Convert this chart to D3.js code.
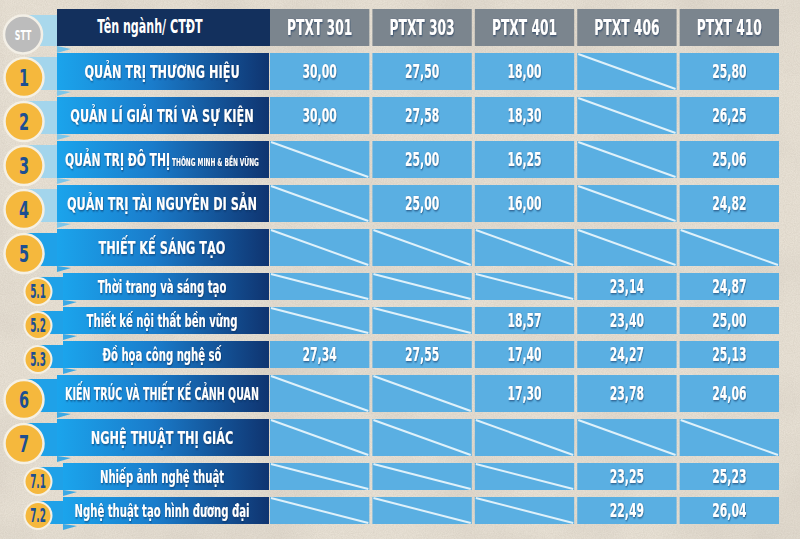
<!DOCTYPE html>
<html>
<head>
<meta charset="utf-8">
<script src="https://cdn.jsdelivr.net/npm/d3@7"></script>
<style>
  html, body { margin: 0; padding: 0; background: #e7e0d4; }
  svg { display: block; }
  text { font-family: "Liberation Sans Narrow", "DejaVu Sans Condensed", "Roboto", sans-serif; font-weight: bold; }
</style>
</head>
<body>
<svg id="chart"></svg>
<script>
// STT labels and program names (row order)
const stt = ["1", "2", "3", "4", "5", "5.1", "5.2", "5.3", "6", "7", "7.1", "7.2"]
const programs = [
  "QUẢN TRỊ THƯƠNG HIỆU",
  "QUẢN LÍ GIẢI TRÍ VÀ SỰ KIỆN",
  "QUẢN TRỊ ĐÔ THỊ",
  "QUẢN TRỊ TÀI NGUYÊN DI SẢN",
  "THIẾT KẾ SÁNG TẠO",
  "Thời trang và sáng tạo",
  "Thiết kế nội thất bền vững",
  "Đồ họa công nghệ số",
  "KIẾN TRÚC VÀ THIẾT KẾ CẢNH QUAN",
  "NGHỆ THUẬT THỊ GIÁC",
  "Nhiếp ảnh nghệ thuật",
  "Nghệ thuật tạo hình đương đại",
]
const programNotes = ["", "", "THÔNG MINH & BỀN VỮNG", "", "", "", "", "", "", "", "", ""]

// admission methods (columns)
const methods = ["PTXT 301", "PTXT 303", "PTXT 401", "PTXT 406", "PTXT 410"]

// scores per method, null = no admission by that method
const ptxt301 = [30.0, 30.0, null, null, null, null, null, 27.34, null, null, null, null]
const ptxt303 = [27.5, 27.58, 25.0, 25.0, null, null, null, 27.55, null, null, null, null]
const ptxt401 = [18.0, 18.3, 16.25, 16.0, null, null, 18.57, 17.4, 17.3, null, null, null]
const ptxt406 = [null, null, null, null, null, 23.14, 23.4, 24.27, 23.78, null, 23.25, 22.49]
const ptxt410 = [25.8, 26.25, 25.06, 24.82, null, 24.87, 25.0, 25.13, 24.06, null, 25.23, 26.04]

const scores = [ptxt301, ptxt303, ptxt401, ptxt406, ptxt410]

const width = 800
const height = 539

const svg = d3.select("#chart").attr("width", width).attr("height", height)
const defs = svg.append("defs")

// parchment texture
const paper = defs.append("filter").attr("id", "paper").attr("x", 0).attr("y", 0).attr("width", 1).attr("height", 1)
paper.append("feTurbulence").attr("type", "fractalNoise").attr("baseFrequency", 0.9).attr("numOctaves", 3).attr("seed", 4).attr("result", "fine")
paper.append("feColorMatrix").attr("in", "fine").attr("type", "matrix")
  .attr("values", "0 0 0 0 0.45  0 0 0 0 0.4  0 0 0 0 0.33  0 0 0 0.35 -0.08").attr("result", "fineA")
paper.append("feTurbulence").attr("type", "fractalNoise").attr("baseFrequency", 0.012).attr("numOctaves", 3).attr("seed", 9).attr("result", "coarse")
paper.append("feColorMatrix").attr("in", "coarse").attr("type", "matrix")
  .attr("values", "0 0 0 0 0.55  0 0 0 0 0.5  0 0 0 0 0.44  0 0 0 0.6 -0.22").attr("result", "coarseA")
paper.append("feMerge").call((m) => {
  m.append("feMergeNode").attr("in", "coarseA")
  m.append("feMergeNode").attr("in", "fineA")
})

svg.append("rect").attr("width", width).attr("height", height).attr("fill", "#e8e1d5")
svg.append("rect").attr("width", width).attr("height", height).attr("filter", "url(#paper)")

// soft drop shadow for white text
const shadow = defs.append("filter").attr("id", "shadow").attr("x", "-20%").attr("y", "-30%").attr("width", "140%").attr("height", "160%")
shadow.append("feDropShadow").attr("dx", 0.8).attr("dy", 1).attr("stdDeviation", 0.8)
  .attr("flood-color", "#0a2f57").attr("flood-opacity", 0.75)

// banner gradient
const grad = defs.append("linearGradient").attr("id", "banner").attr("x1", 0).attr("x2", 1).attr("y1", 0).attr("y2", 0)
grad.append("stop").attr("offset", "0%").attr("stop-color", "#1ba4ec")
grad.append("stop").attr("offset", "45%").attr("stop-color", "#1a7ccb")
grad.append("stop").attr("offset", "100%").attr("stop-color", "#0f3470")

// row layout: header + program rows, sub programs are shorter
const isSub = (s) => s.includes(".")
const mainH = 37
const subH = 27
const gap = 7
const topY = 9
const rowH = [mainH, ...stt.map((s) => (isSub(s) ? subH : mainH))]
const rowY = rowH.map((h, i) => topY + d3.sum(rowH.slice(0, i)) + i * gap)

// columns
const x = d3.scaleBand().domain(methods).range([270, 779]).paddingInner(0.03)
const nameLeft = 57
const subLeft = 63
const nameRight = 269
const nameMid = 162

const fmt = (v) => d3.format(".2f")(v).replace(".", ",")

// helper: condensed text via horizontal scale
function label(g, tx, ty, str, size, sx, fill) {
  return g.append("text")
    .attr("transform", `translate(${tx},${ty}) scale(${sx},1)`)
    .attr("text-anchor", "middle")
    .attr("font-size", size)
    .attr("fill", fill)
    .text(str)
}

// ---- header ----
const head = svg.append("g")
head.append("rect").attr("x", 22).attr("y", rowY[0] + 6).attr("width", nameLeft - 22).attr("height", mainH - 6).attr("fill", "#a9d8ec")
head.append("polygon")
  .attr("points", `${nameLeft},${rowY[0] + mainH} ${nameLeft + 14},${rowY[0] + mainH + 3} ${nameLeft},${rowY[0] + mainH + 7}`)
  .attr("fill", "#6fc0e8")
head.append("rect").attr("x", nameLeft).attr("y", rowY[0]).attr("width", nameRight - nameLeft + 1).attr("height", mainH).attr("fill", "#13305d")
label(head, 150, rowY[0] + 24, "Tên ngành/ CTĐT", 19, 0.65, "#fff")
head.append("circle").attr("cx", 23).attr("cy", rowY[0] + mainH / 2 + 7).attr("r", 19)
  .attr("fill", "#bcbcbc").attr("stroke", "#f3efe6").attr("stroke-width", 2.5)
label(head, 23, rowY[0] + mainH / 2 + 12, "STT", 14, 0.62, "#fff")

head.selectAll("rect.method").data(methods).enter().append("rect")
  .attr("class", "method")
  .attr("x", (d) => x(d)).attr("y", rowY[0]).attr("width", x.bandwidth()).attr("height", mainH)
  .attr("fill", "#7b858e")
methods.forEach((m) => {
  label(head, x(m) + x.bandwidth() / 2, rowY[0] + 26, m, 21, 0.65, "#fff").attr("filter", "url(#shadow)")
})

// ---- program rows ----
stt.forEach((s, i) => {
  const y = rowY[i + 1]
  const h = rowH[i + 1]
  const sub = isSub(s)
  const left = sub ? subLeft : nameLeft
  const cx = sub ? 38 : 24
  const g = svg.append("g")

  // ribbon tab behind the number badge
  const tabColor = i < 4 ? "#a3d5ec" : "#1fa1e8"
  g.append("rect").attr("x", cx).attr("y", y + 4).attr("width", left - cx).attr("height", h - 4).attr("fill", tabColor)
  g.append("polygon")
    .attr("points", `${left},${y + h} ${left + 14},${y + h + 2} ${left},${y + h + 6}`)
    .attr("fill", i < 4 ? "#7cc6ea" : "#3aa9e6")

  // name banner
  g.append("rect").attr("x", left).attr("y", y).attr("width", nameRight - left).attr("height", h).attr("fill", "url(#banner)")
  const t = g.append("text")
    .attr("text-anchor", "middle")
    .attr("font-size", sub ? 17 : 18.5)
    .attr("fill", "#fff")
    .attr("filter", "url(#shadow)")
  t.append("tspan").text(programs[i])
  if (programNotes[i]) t.append("tspan").attr("font-size", 10).text(" " + programNotes[i])
  // squeeze the name so it fits inside the banner
  const natural = t.node().getComputedTextLength()
  const sx = Math.min(sub ? 0.66 : 0.68, (sub ? 178 : 194) / natural)
  t.attr("transform", `translate(${nameMid},${y + h / 2 + 6}) scale(${sx},1)`)

  // number badge
  const r = sub ? 13.5 : 19.5
  const cy = y + h / 2 + (sub ? 5 : 6)
  g.append("circle").attr("cx", cx).attr("cy", cy).attr("r", r)
    .attr("fill", "#f5b83d").attr("stroke", "#f5f0e4").attr("stroke-width", sub ? 2 : 2.5)
  label(g, cx, cy + (sub ? 6.5 : 8), s, sub ? 19 : 23, sub ? 0.52 : 0.7, "#1c4f92")

  // score cells
  methods.forEach((m, j) => {
    const v = scores[j][i]
    const cx0 = x(m)
    g.append("rect").attr("x", cx0).attr("y", y).attr("width", x.bandwidth()).attr("height", h).attr("fill", "#5aafe2")
    if (v == null) {
      g.append("line")
        .attr("x1", cx0 + 1).attr("y1", y + 1)
        .attr("x2", cx0 + x.bandwidth() - 1).attr("y2", y + h - 1)
        .attr("stroke", "#dff1fa").attr("stroke-width", 2)
    } else {
      label(g, cx0 + x.bandwidth() / 2, y + h / 2 + 6, fmt(v), 20, 0.6, "#fff").attr("filter", "url(#shadow)")
    }
  })
})
</script>
</body>
</html>
